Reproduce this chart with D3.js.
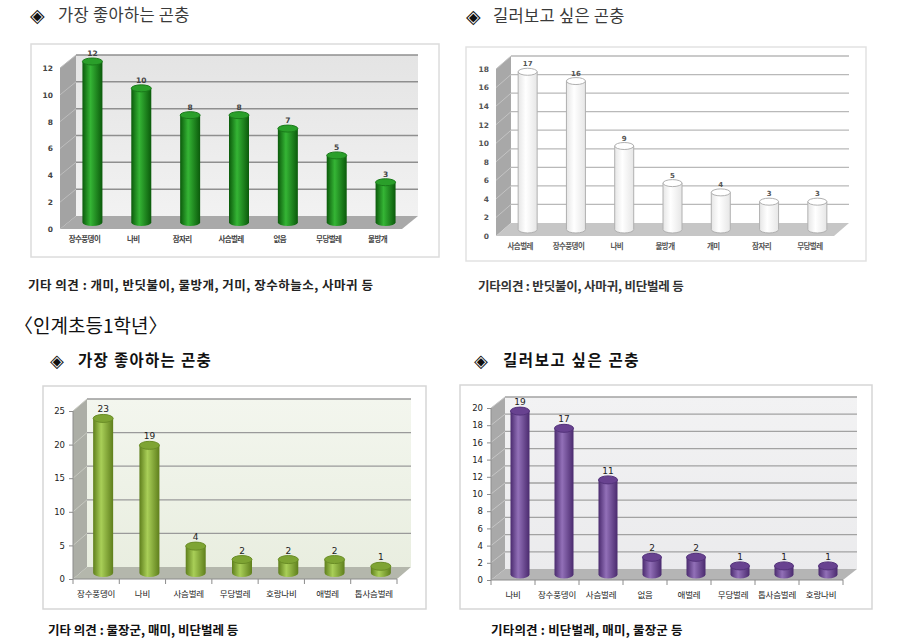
<!DOCTYPE html>
<html>
<head>
<meta charset="utf-8">
<script src="https://cdn.jsdelivr.net/npm/d3@7"></script>
<style>
  body { margin: 0; background: #fff; }
  text { font-family: "Noto Sans CJK KR", "Noto Sans", sans-serif; }
</style>
</head>
<body>
<div id="chart"></div>
<script>
// data
var catsA = ['장수풍뎅이', '나비', '잠자리', '사슴벌레', '없음', '무당벌레', '물방개'];
var valsA = [12, 10, 8, 8, 7, 5, 3];
var ticksA = [0, 2, 4, 6, 8, 10, 12];

var catsB = ['사슴벌레', '장수풍뎅이', '나비', '물방개', '개미', '잠자리', '무당벌레'];
var valsB = [17, 16, 9, 5, 4, 3, 3];
var ticksB = [0, 2, 4, 6, 8, 10, 12, 14, 16, 18];

var catsC = ['장수풍뎅이', '나비', '사슴벌레', '무당벌레', '호랑나비', '애벌레', '톱사슴벌레'];
var valsC = [23, 19, 4, 2, 2, 2, 1];
var ticksC = [0, 5, 10, 15, 20, 25];

var catsD = ['나비', '장수풍뎅이', '사슴벌레', '없음', '애벌레', '무당벌레', '톱사슴벌레', '호랑나비'];
var valsD = [19, 17, 11, 2, 2, 1, 1, 1];
var ticksD = [0, 2, 4, 6, 8, 10, 12, 14, 16, 18, 20];

var svg = d3.select('#chart').append('svg')
    .attr('width', 921)
    .attr('height', 643)

var defs = svg.append('defs')

// horizontal shading for a cylinder
function barGradient(id, edge, mid) {
    var gr = defs.append('linearGradient').attr('id', id)
        .attr('x1', '0%').attr('x2', '100%')
    gr.append('stop').attr('offset', '0%').attr('stop-color', edge)
    gr.append('stop').attr('offset', '40%').attr('stop-color', mid)
    gr.append('stop').attr('offset', '100%').attr('stop-color', edge)
}
function wallGradient(id, c1, c2) {
    var gr = defs.append('linearGradient').attr('id', id)
        .attr('x1', '0%').attr('x2', '0%').attr('y1', '0%').attr('y2', '100%')
    gr.append('stop').attr('offset', '0%').attr('stop-color', c1)
    gr.append('stop').attr('offset', '100%').attr('stop-color', c2)
}

barGradient('gA', '#0b5a0b', '#35b535')
barGradient('gB', '#e6e6e6', '#ffffff')
barGradient('gC', '#5f7f1c', '#a9cf58')
barGradient('gD', '#4a2a6e', '#9270b8')
wallGradient('wA', '#e4e4e4', '#f2f2f2')
wallGradient('wC', '#f3f6ee', '#e9eee0')
wallGradient('wD', '#f2f2f3', '#ebebed')

function drawChart(cats, vals, ticks, o) {
    var g = svg.append('g')

    // outer box
    g.append('rect')
        .attr('x', o.box[0]).attr('y', o.box[1])
        .attr('width', o.box[2] - o.box[0]).attr('height', o.box[3] - o.box[1])
        .attr('fill', '#fff').attr('stroke', o.boxStroke).attr('stroke-width', 1.5)

    var max = ticks[ticks.length - 1]
    var y = d3.scaleLinear().domain([0, max]).range([o.y0, o.yTop])
    var x = d3.scaleBand().domain(cats).range([o.x0, o.x1])
    var dx = o.dx, dy = o.dy

    // back wall
    g.append('rect')
        .attr('x', o.x0 + dx).attr('y', y(max) - dy)
        .attr('width', o.x1 - o.x0).attr('height', y(0) - y(max))
        .attr('fill', o.back)
    // side wall
    g.append('path')
        .attr('d', 'M' + o.x0 + ',' + y(0) + 'L' + o.x0 + ',' + y(max) +
            'L' + (o.x0 + dx) + ',' + (y(max) - dy) + 'L' + (o.x0 + dx) + ',' + (y(0) - dy) + 'Z')
        .attr('fill', o.side)
    // floor
    g.append('path')
        .attr('d', 'M' + o.x0 + ',' + y(0) + 'L' + o.x1 + ',' + y(0) +
            'L' + (o.x1 + dx) + ',' + (y(0) - dy) + 'L' + (o.x0 + dx) + ',' + (y(0) - dy) + 'Z')
        .attr('fill', o.floor)

    // grid lines on back and side walls
    ticks.forEach(function(t) {
        if (t > 0) {
            g.append('line')
                .attr('x1', o.x0 + dx).attr('x2', o.x1 + dx)
                .attr('y1', y(t) - dy).attr('y2', y(t) - dy)
                .attr('stroke', o.grid).attr('stroke-width', o.gridW)
            g.append('line')
                .attr('x1', o.x0).attr('x2', o.x0 + dx)
                .attr('y1', y(t)).attr('y2', y(t) - dy)
                .attr('stroke', o.sideGrid).attr('stroke-width', 1)
        }
    })

    // y axis
    var ya = g.append('g')
        .attr('transform', 'translate(' + o.x0 + ',0)')
        .call(d3.axisLeft(y).tickValues(ticks).tickSize(o.tickLen).tickPadding(o.tickPad))
    ya.select('.domain').attr('stroke', o.axisCol).attr('d', 'M0,' + y(0) + 'V' + y(max))
    ya.selectAll('.tick line').attr('stroke', o.axisCol)
    ya.selectAll('text')
        .style('font-family', '"DejaVu Sans", sans-serif')
        .attr('font-size', o.yFont).attr('font-weight', o.yWeight).attr('fill', o.textCol)

    // x axis with category names
    var xa = g.append('g')
        .attr('transform', 'translate(0,' + y(0) + ')')
        .call(d3.axisBottom(x).tickSize(0).tickPadding(o.labelPad))
    xa.select('.domain').attr('stroke', o.axisCol).attr('d', 'M' + o.x0 + ',0H' + o.x1)
    xa.selectAll('text')
        .attr('font-size', o.xFont).attr('font-weight', o.xWeight).attr('fill', o.textCol)
        .attr('letter-spacing', o.xSpacing)
    if (o.xTicks) {
        cats.forEach(function(c) {
            g.append('line')
                .attr('x1', x(c)).attr('x2', x(c))
                .attr('y1', y(0)).attr('y2', y(0) + 5)
                .attr('stroke', o.axisCol)
        })
        g.append('line')
            .attr('x1', o.x1).attr('x2', o.x1)
            .attr('y1', y(0)).attr('y2', y(0) + 5)
            .attr('stroke', o.axisCol)
    }

    // cylinders
    var rx = o.barW / 2, ry = o.ry
    cats.forEach(function(c, i) {
        var cx = x(c) + x.bandwidth() / 2 + dx / 2
        var yb = y(0) - dy / 2
        var yt = y(vals[i]) - dy / 2
        g.append('path')
            .attr('d', 'M' + (cx - rx) + ',' + yt + 'L' + (cx - rx) + ',' + yb +
                'A' + rx + ',' + ry + ' 0 0 0 ' + (cx + rx) + ',' + yb +
                'L' + (cx + rx) + ',' + yt + 'Z')
            .attr('fill', 'url(#' + o.grad + ')')
            .attr('stroke', o.barStroke).attr('stroke-width', o.barStroke == 'none' ? 0 : 1)
        g.append('ellipse')
            .attr('cx', cx).attr('cy', yt).attr('rx', rx).attr('ry', ry)
            .attr('fill', o.capFill)
            .attr('stroke', o.capStroke).attr('stroke-width', 1)
        g.append('text')
            .attr('x', cx).attr('y', yt - ry - 2)
            .attr('text-anchor', 'middle')
            .style('font-family', '"DejaVu Sans", sans-serif')
            .attr('font-size', o.vFont).attr('font-weight', o.vWeight)
            .attr('fill', o.textCol)
            .text(vals[i])
    })
}

drawChart(catsA, valsA, ticksA, {
    box: [31, 44, 439, 257], boxStroke: '#dcdcdc',
    x0: 60, x1: 402, y0: 229, yTop: 68, dx: 16, dy: 13,
    back: 'url(#wA)', side: '#a3a3a3', floor: '#a9a9a9',
    grid: '#8f8f8f', gridW: 1.5, sideGrid: '#bdbdbd',
    tickLen: 0, tickPad: 7, axisCol: 'none', yFont: 7.5, yWeight: 'bold',
    labelPad: 8, xFont: 7.5, xWeight: 'bold', xSpacing: -0.6, xTicks: false,
    textCol: '#444', barW: 20, ry: 3.5, grad: 'gA', barStroke: 'none',
    capFill: '#2a9f2a', capStroke: '#1a7a1a', vFont: 7.5, vWeight: 'bold'
})

drawChart(catsB, valsB, ticksB, {
    box: [466, 47, 866, 261], boxStroke: '#e2e2e2',
    x0: 496, x1: 834, y0: 236, yTop: 69, dx: 15, dy: 13,
    back: '#ffffff', side: '#a8a8a8', floor: '#c6c6c6',
    grid: '#b9b9b9', gridW: 1.3, sideGrid: '#c4c4c4',
    tickLen: 0, tickPad: 7, axisCol: 'none', yFont: 7.5, yWeight: 'bold',
    labelPad: 8, xFont: 7.5, xWeight: 'bold', xSpacing: -0.6, xTicks: false,
    textCol: '#555', barW: 19, ry: 3.5, grad: 'gB', barStroke: '#b0b0b0',
    capFill: '#ffffff', capStroke: '#b0b0b0', vFont: 7, vWeight: 'bold'
})

drawChart(catsC, valsC, ticksC, {
    box: [43, 386, 426, 609], boxStroke: '#d6d6d6',
    x0: 73, x1: 397, y0: 579, yTop: 411, dx: 14, dy: 12,
    back: 'url(#wC)', side: '#acaea6', floor: '#b4b7ac',
    grid: '#9a9a9a', gridW: 1.3, sideGrid: '#c6c8c0',
    tickLen: 4, tickPad: 4, axisCol: '#8c8c8c', yFont: 8.5, yWeight: 'normal',
    labelPad: 12, xFont: 8.5, xWeight: 'normal', xSpacing: -0.2, xTicks: true,
    textCol: '#222', barW: 20, ry: 4, grad: 'gC', barStroke: 'none',
    capFill: '#7ea433', capStroke: '#6a8d26', vFont: 9, vWeight: 'normal'
})

drawChart(catsD, valsD, ticksD, {
    box: [460, 385, 872, 609], boxStroke: '#d6d6d6',
    x0: 491, x1: 843, y0: 580, yTop: 408, dx: 14, dy: 11,
    back: 'url(#wD)', side: '#a9a9a9', floor: '#b5b5b5',
    grid: '#a2a2a2', gridW: 1.3, sideGrid: '#c6c6c6',
    tickLen: 4, tickPad: 4, axisCol: '#8c8c8c', yFont: 8.5, yWeight: 'normal',
    labelPad: 12, xFont: 8.5, xWeight: 'normal', xSpacing: -0.2, xTicks: true,
    textCol: '#222', barW: 19, ry: 4, grad: 'gD', barStroke: 'none',
    capFill: '#684290', capStroke: '#53327a', vFont: 9, vWeight: 'normal'
})

// headings and notes
function label(x, y, txt, size, weight, col, spacing) {
    svg.append('text')
        .attr('x', x).attr('y', y)
        .attr('font-size', size).attr('font-weight', weight)
        .attr('fill', col).attr('letter-spacing', spacing || 0)
        .text(txt)
}

label(30, 22, '◈', 19, 'normal', '#111')
label(58, 21, '가장 좋아하는 곤충', 16.5, 'normal', '#3a3a3a', 0.3)
label(466, 23, '◈', 19, 'normal', '#111')
label(493, 22, '길러보고 싶은 곤충', 16.5, 'normal', '#3a3a3a', 0.3)

label(28, 290, '기타 의견 : 개미,  반딧불이, 물방개, 거미, 장수하늘소, 사마귀 등', 12.5, 'bold', '#222', 0.5)
label(478, 291, '기타의견 : 반딧불이, 사마귀, 비단벌레 등', 12.5, 'bold', '#333', -0.2)

label(14, 333, '〈인계초등1학년〉', 19, 'normal', '#111', 0)

label(50, 367, '◈', 18, 'normal', '#111')
label(78, 366, '가장 좋아하는 곤충', 15.5, 'bold', '#111', 1.3)
label(474, 367, '◈', 18, 'normal', '#111')
label(503, 366, '길러보고 싶은 곤충', 15.5, 'bold', '#111', 1.6)

label(48, 635, '기타 의견 : 물장군, 매미, 비단벌레 등', 12.5, 'bold', '#111', 0)
label(491, 635, '기타의견 : 비단벌레, 매미, 물장군 등', 12.5, 'bold', '#111', 0.2)
</script>
</body>
</html>
